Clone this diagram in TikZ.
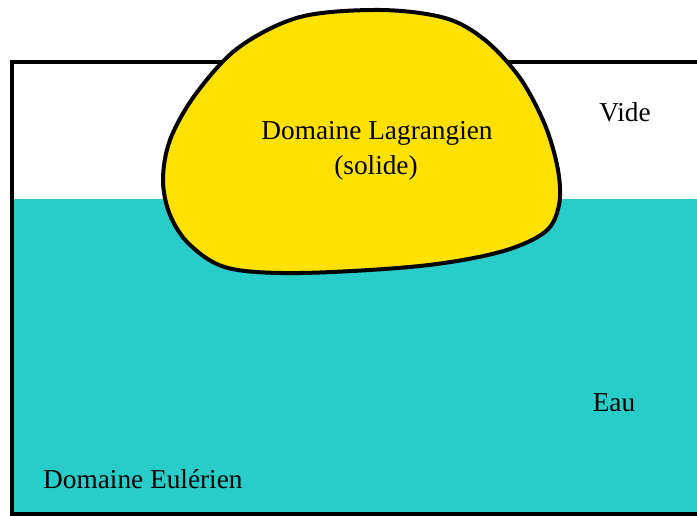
\documentclass[tikz,border=0pt]{standalone}
\usepackage{fontspec}
\setmainfont{Liberation Serif}
\definecolor{eau}{RGB}{40,204,200}
\definecolor{solide}{RGB}{255,225,0}
\begin{document}
\begin{tikzpicture}[x=1pt,y=-1pt,
  lbl/.style={font=\rmfamily\fontsize{27.3}{35}\selectfont, anchor=base, inner sep=0pt, text=black},
  contour/.style={draw=black, line width=4pt}]
\useasboundingbox (0,0) rectangle (697,516);
% water layer and the Eulerian domain box
\fill[eau] (12,199) rectangle (710,514);
\draw[line width=4pt] (720,62) -- (12,62) -- (12,514) -- (720,514);
% Lagrangian solid body
\filldraw[contour, fill=solide] plot[smooth cycle, tension=0.55] coordinates {
  (380,10) (445,18) (485,40) (520,78) (545,125) (558,170) (559,205)
  (545,232) (500,252) (420,266) (300,273) (228,268) (190,245) (170,215)
  (163,180) (170,140) (195,95) (238,48) (300,17)};
% labels
\node[lbl] (lag1) at (377,140) {Domaine Lagrangien};
\node[lbl] (lag2) at (376,175) {(solide)};
\node[lbl] (vide) at (625,122) {Vide};
\node[lbl] (eau) at (614,411) {Eau};
\node[lbl, anchor=base west] (euler) at (43,488) {Domaine Eulérien};
\end{tikzpicture}
\end{document}
